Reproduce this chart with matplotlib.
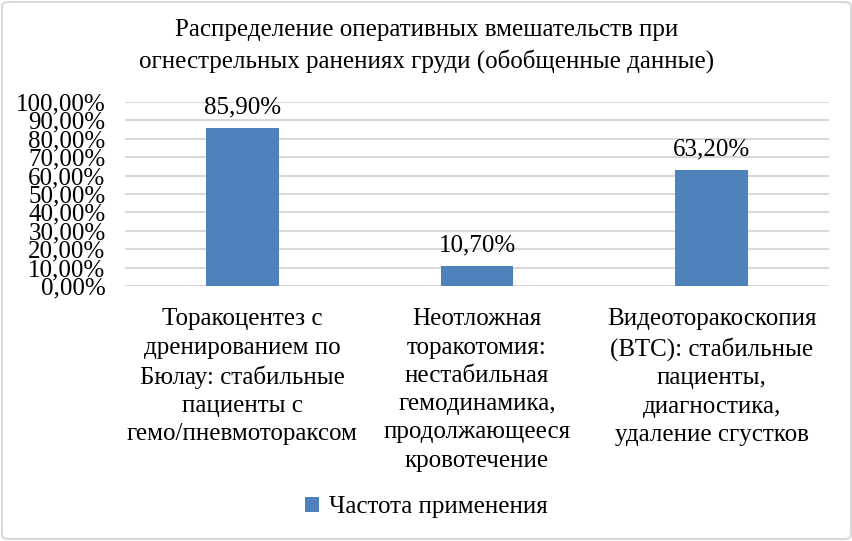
import numpy as np
import matplotlib.pyplot as plt
from matplotlib.patches import FancyBboxPatch
from matplotlib.ticker import FuncFormatter

# data
categories = ['Торакоцентез с\nдренированием по\nБюлау: стабильные\nпациенты с\nгемо/пневмотораксом',
              'Неотложная\nторакотомия:\nнестабильная\nгемодинамика,\nпродолжающееся\nкровотечение',
              'Видеоторакоскопия\n(ВТС): стабильные\nпациенты,\nдиагностика,\nудаление сгустков']
values = [85.9, 10.7, 63.2]
series_name = 'Частота применения'
title = 'Распределение оперативных вмешательств при\nогнестрельных ранениях груди (обобщенные данные)'

plt.rcParams['font.family'] = ['Liberation Serif', 'DejaVu Serif']
fs = 18
bar_color = '#4F81BD'
grid_color = '#D9D9D9'

fig = plt.figure(figsize=(8.53, 5.41), dpi=100)
ax = fig.add_axes([125/853, 1-286/541, 704/853, 184/541])

x = np.arange(len(categories))
bars = ax.bar(x, values, width=0.31, color=bar_color, zorder=3, label=series_name)
for xi, v in zip(x, values):
    ax.annotate(('%.2f%%' % v).replace('.', ','), (xi, v), xytext=(0, 7),
                textcoords='offset points', ha='center', va='bottom', fontsize=fs)

ax.set_xlim(-0.5, 2.5)
ax.set_ylim(0, 100)
ax.set_yticks(np.arange(0, 101, 10))
ax.yaxis.set_major_formatter(FuncFormatter(lambda v, p: ('%.2f%%' % v).replace('.', ',')))
ax.tick_params(axis='y', length=0, pad=14, labelsize=fs)
ax.set_xticks(x)
ax.set_xticklabels(categories, fontsize=fs, linespacing=1.37)
ax.tick_params(axis='x', length=0, pad=16)
ax.grid(axis='y', color=grid_color, linewidth=1.5, zorder=0)
for s in ax.spines.values():
    s.set_visible(False)

fig.text(0.5, 1-46/541, title, ha='center', va='center', fontsize=fs, linespacing=1.45)

leg = fig.legend(handles=[bars], labels=[series_name], loc='center', bbox_to_anchor=(0.5, 1-507/541),
                 frameon=False, fontsize=fs, handlelength=0.55, handleheight=0.55, handletextpad=0.4)

border = FancyBboxPatch((2/853, 2/541), 1-4/853, 1-4/541, boxstyle='round,pad=0,rounding_size=0.008',
                        transform=fig.transFigure, fill=False, edgecolor='#D9D9D9', linewidth=1.5)
fig.patches.append(border)

fig.savefig('out.png', dpi=100, facecolor='white')
